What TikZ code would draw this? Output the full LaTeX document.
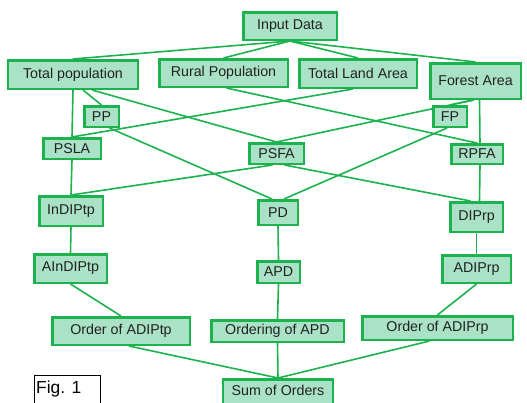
\documentclass[tikz,border=0pt]{standalone}
\usepackage{fontspec}
\setmainfont{Liberation Sans}
\usetikzlibrary{calc,backgrounds}
\definecolor{boxfill}{RGB}{170,226,200}
\definecolor{boxline}{RGB}{28,178,78}
\definecolor{txt}{RGB}{34,34,34}
\tikzset{
  flowbox/.style={draw=boxline, fill=boxfill, line width=2.5bp, inner sep=0pt,
    text=txt, font=\fontsize{14.3}{16}\selectfont, anchor=center},
  link/.style={draw=boxline, line width=1.6bp}
}
\newcommand{\bx}[6]{\node[flowbox, minimum width=#4bp-2.5bp, minimum height=#5bp-2.5bp] (#1) at (#2,#3) {#6};}
\begin{document}
\begin{tikzpicture}[x=1bp,y=-1bp]
\useasboundingbox (0,0) rectangle (527,402);
\clip (0,0) rectangle (527,402);
% boxes
\bx{input}{290}{26}{96}{30}{Input Data}
\bx{totpop}{73}{74.5}{132}{31}{Total population}
\bx{rural}{223.5}{73}{131}{30}{Rural Population}
\bx{land}{358}{73.5}{120}{31}{Total Land Area}
\bx{forest}{475.5}{81}{93}{38}{Forest Area}
\bx{pp}{101.5}{116.5}{37}{23}{PP}
\bx{fp}{450}{116.5}{36}{23}{FP}
\bx{psla}{72}{148.5}{60}{23}{PSLA}
\bx{psfa}{276.5}{153.5}{57}{23}{PSFA}
\bx{rpfa}{477}{154}{54}{22}{RPFA}
\bx{indiptp}{71}{211}{66}{32}{InDIPtp}
\bx{pd}{278}{212.5}{42}{27}{PD}
\bx{diprp}{476.5}{217}{55}{32}{DIPrp}
\bx{aindiptp}{70.5}{268.5}{75}{31}{AInDIPtp}
\bx{apd}{278.5}{272}{45}{24}{APD}
\bx{adiprp}{476.5}{269}{71}{30}{ADIPrp}
\bx{ordtp}{121}{331}{140}{30}{Order of ADIPtp}
\bx{ordapd}{277.5}{331}{135}{24}{Ordering of APD}
\bx{ordrp}{437.5}{328}{153}{26}{Order of ADIPrp}
\node[flowbox, minimum width=110bp, minimum height=30bp, anchor=north] (sum) at (278,378) {};
\node[text=txt, font=\fontsize{14.3}{16}\selectfont] (sumtxt) at (278,390) {Sum of Orders};
\node[draw=black, line width=1.3bp, minimum width=66bp, minimum height=40bp, anchor=north west, inner sep=0pt] (figbox) at (33.5,374.5) {};
\node[font=\fontsize{17.5}{20}\selectfont, anchor=west, inner sep=0pt] (figtxt) at (36,389) {Fig. 1};
% links
\begin{scope}[on background layer]
\fill[white] (0,0) rectangle (527,402);
\draw[link] (input.south) -- (totpop.north);
\draw[link] (input.south) -- (rural.north);
\draw[link] (input.south) -- (land.north);
\draw[link] (input.south) -- (forest.north);
\draw[link] (totpop.south) -- (psla.north);
\draw[link] ($(totpop.south)+(10,0)$) -- (pp.north);
\draw[link] ($(totpop.south)+(19,0)$) -- (psfa.north);
\draw[link] ($(rural.south)+(3,0)$) -- (rpfa.north);
\draw[link] ($(land.south)+(-5,0)$) -- (psla.north);
\draw[link] ($(forest.south)+(-2,0)$) -- (fp.north);
\draw[link] ($(forest.south)+(-2,0)$) -- (psfa.north);
\draw[link] ($(forest.south)+(4,0)$) -- ($(rpfa.north)+(3,0)$);
\draw[link] ($(pp.south)+(8,0)$) -- ($(pd.north)+(-6,0)$);
\draw[link] ($(fp.south)+(-3,0)$) -- ($(pd.north)+(6,0)$);
\draw[link] (psla.south) -- (indiptp.north);
\draw[link] ($(psfa.south)+(-4,0)$) -- (indiptp.north);
\draw[link] ($(psfa.south)+(8,0)$) -- ($(diprp.north)+(-6,0)$);
\draw[link] ($(rpfa.south)+(3,0)$) -- ($(diprp.north)+(3,0)$);
\draw[link] (indiptp.south) -- (aindiptp.north);
\draw[link] (pd.south) -- (apd.north);
\draw[link] (diprp.south) -- (adiprp.north);
\draw[link] (aindiptp.south) -- (ordtp.north);
\draw[link] (apd.south) -- (ordapd.north);
\draw[link] (adiprp.south) -- (ordrp.north);
\draw[link] ($(ordtp.south)+(8,0)$) -- (sum.north);
\draw[link] (ordapd.south) -- (sum.north);
\draw[link] ($(ordrp.south)+(-8,0)$) -- (sum.north);
\end{scope}
\end{tikzpicture}
\end{document}
